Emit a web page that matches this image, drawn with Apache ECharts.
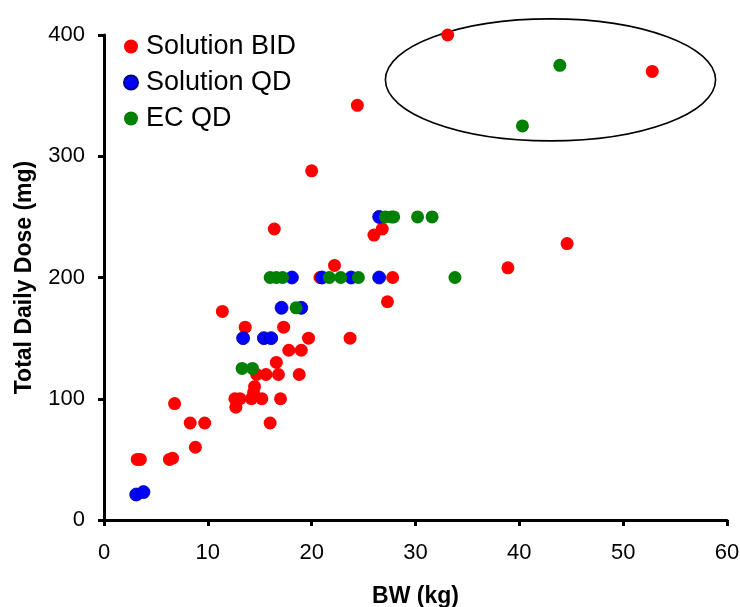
<!DOCTYPE html>
<html>
<head>
<meta charset="utf-8">
<script src="https://cdn.jsdelivr.net/npm/echarts@6/dist/echarts.min.js"></script>
<style>
  html, body { margin: 0; padding: 0; background: #fff; }
  #chart { width: 740px; height: 607px; }
</style>
</head>
<body>
<div id="chart"></div>
<script>
// Body weight (kg) vs total daily dose (mg), by formulation
const solutionBID = [
  [33.1, 400], [52.8, 370], [24.4, 342], [20.0, 288], [16.4, 240], [26.8, 240],
  [26.0, 235], [44.6, 228], [38.9, 208], [22.2, 210], [20.8, 200], [27.8, 200],
  [27.3, 180], [11.4, 172], [13.6, 159], [17.3, 159], [19.7, 150], [23.7, 150],
  [17.8, 140], [19.0, 140], [16.6, 130], [14.7, 120], [15.6, 120], [16.8, 120],
  [18.8, 120], [14.5, 110], [14.4, 105], [12.6, 100], [13.1, 100], [14.2, 100],
  [15.2, 100], [17.0, 100], [12.7, 93], [6.8, 96], [8.3, 80], [9.7, 80],
  [16.0, 80], [8.8, 60], [3.2, 50], [3.5, 50], [6.3, 50], [6.6, 51]
];
const solutionQD = [
  [3.1, 21], [3.8, 23], [13.4, 150], [15.4, 150], [16.1, 150], [17.1, 175],
  [19.0, 175], [18.1, 200], [21.0, 200], [23.8, 200], [26.5, 200], [26.5, 250]
];
const ecQD = [
  [13.3, 125], [14.3, 125], [18.5, 175], [16.0, 200], [16.6, 200], [17.2, 200],
  [21.7, 200], [22.8, 200], [24.5, 200], [33.8, 200], [27.1, 250], [27.7, 250],
  [27.9, 250], [30.2, 250], [31.6, 250], [40.3, 325], [43.9, 375]
];
const seriesNames = ['Solution BID', 'Solution QD', 'EC QD'];
const seriesColors = ['#ff0000', '#0000ff', '#008000'];
const xTicks = [0, 10, 20, 30, 40, 50, 60];
const yTicks = [0, 100, 200, 300, 400];
// Outlier group highlighted with an ellipse: centre and half-axes in data units
const outlierEllipse = { cx: 43.0, cy: 363, rx: 15.9, ry: 50.3 };

const FONT = 'Liberation Sans, Arial, sans-serif';
const chart = echarts.init(document.getElementById('chart'), null, { renderer: 'canvas' });

const axisCommon = {
  axisLine: { show: true, onZero: false, lineStyle: { color: '#000', width: 3 } },
  axisTick: { show: true, inside: false, length: 6, lineStyle: { color: '#000', width: 3 } },
  splitLine: { show: false },
  axisLabel: { color: '#000', fontSize: 22, fontFamily: FONT },
  nameLocation: 'middle',
  nameTextStyle: { color: '#000', fontSize: 23, fontWeight: 'bold', fontFamily: FONT }
};

const option = {
  backgroundColor: '#fff',
  animation: false,
  grid: { left: 104, right: 13, top: 35, bottom: 87, containLabel: false, outerBoundsMode: 'none' },
  legend: {
    orient: 'vertical',
    left: 123,
    top: 33,
    padding: 0,
    itemWidth: 20,
    itemHeight: 14,
    itemGap: 9,
    icon: 'circle',
    textStyle: { color: '#000', fontSize: 27, fontFamily: FONT },
    data: seriesNames
  },
  xAxis: Object.assign({}, axisCommon, {
    type: 'value',
    min: xTicks[0],
    max: xTicks[xTicks.length - 1],
    interval: 10,
    name: 'BW (kg)',
    nameGap: 65,
    axisLabel: Object.assign({}, axisCommon.axisLabel, { margin: 22 })
  }),
  yAxis: Object.assign({}, axisCommon, {
    type: 'value',
    min: yTicks[0],
    max: yTicks[yTicks.length - 1],
    interval: 100,
    name: 'Total Daily Dose (mg)',
    nameGap: 68,
    axisLabel: Object.assign({}, axisCommon.axisLabel, { margin: 19 })
  }),
  series: [solutionBID, solutionQD, ecQD].map((data, i) => ({
    name: seriesNames[i],
    type: 'scatter',
    data: data,
    symbol: 'circle',
    symbolSize: 13,
    z: 2 + i,
    itemStyle: {
      color: seriesColors[i],
      opacity: 1,
      borderColor: i === 1 ? '#00008b' : seriesColors[i],
      borderWidth: i === 1 ? 0.8 : 0
    }
  }))
};

chart.setOption(option);

// Ellipse around the outlier group, placed through the axes' own scales
const c = chart.convertToPixel({ gridIndex: 0 }, [outlierEllipse.cx, outlierEllipse.cy]);
const e = chart.convertToPixel({ gridIndex: 0 }, [outlierEllipse.cx + outlierEllipse.rx, outlierEllipse.cy + outlierEllipse.ry]);
chart.setOption({
  graphic: [{
    type: 'ellipse',
    shape: { cx: c[0], cy: c[1], rx: Math.abs(e[0] - c[0]), ry: Math.abs(c[1] - e[1]) },
    style: { fill: 'none', stroke: '#000', lineWidth: 1.6 },
    z: 1
  }]
});
</script>
</body>
</html>
